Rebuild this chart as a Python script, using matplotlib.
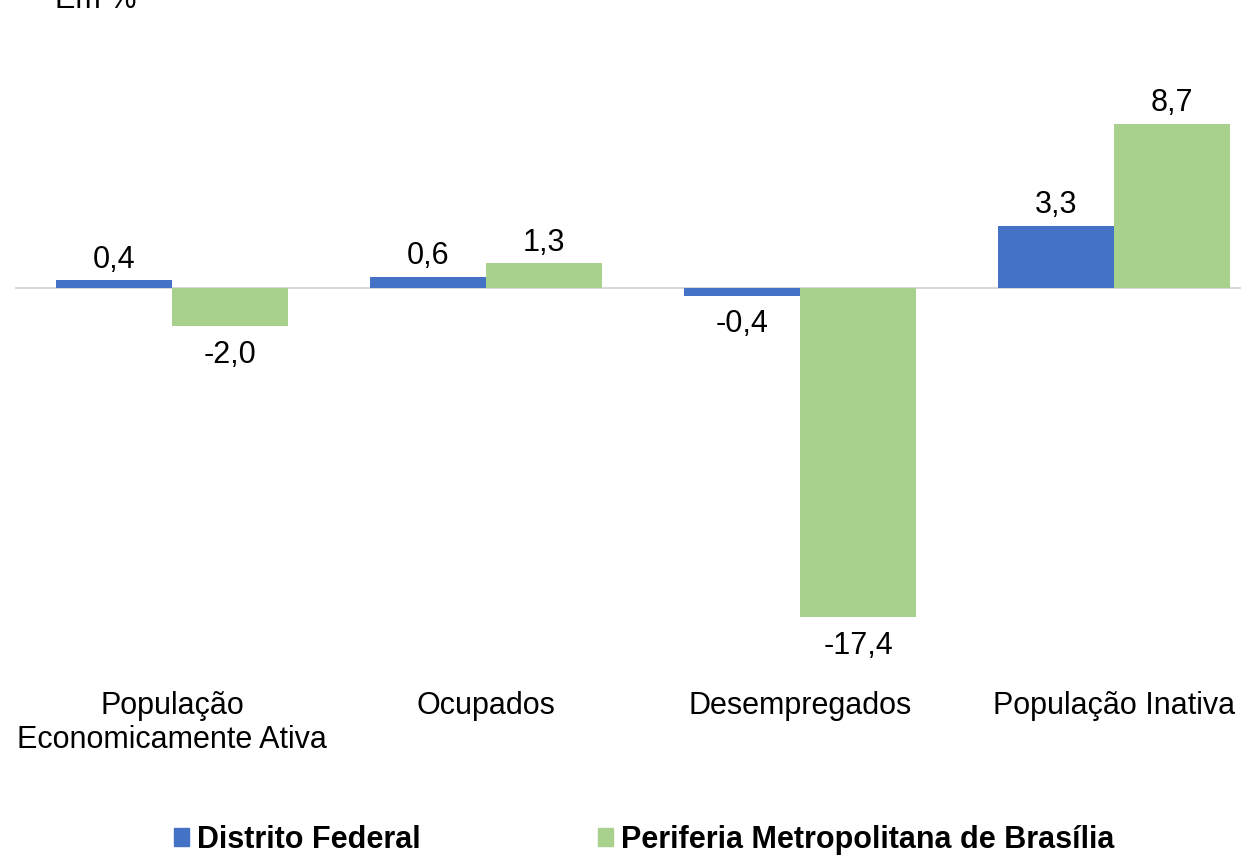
import numpy as np
import matplotlib
matplotlib.use("Agg")
import matplotlib.pyplot as plt
from matplotlib.patches import Patch

categories = ["População\nEconomicamente Ativa", "Ocupados", "Desempregados", "População Inativa"]
distrito_federal = [0.4, 0.6, -0.4, 3.3]
periferia = [-2.0, 1.3, -17.4, 8.7]
series_names = ["Distrito Federal", "Periferia Metropolitana de Brasília"]

BLUE = "#4472C4"
GREEN = "#A9D18E"

plt.rcParams["font.family"] = ["Liberation Sans", "DejaVu Sans"]

fig = plt.figure(figsize=(12.54, 8.56), dpi=100)
W, H = 1254, 856
ax = fig.add_axes([15 / W, (H - 660) / H, 1239 / W, 620 / H])

x = np.arange(len(categories))
w = 0.37
b1 = ax.bar(x - w / 2, distrito_federal, w, color=BLUE, zorder=3)
b2 = ax.bar(x + w / 2, periferia, w, color=GREEN, zorder=3)

# thin grey zero line
ax.plot([-0.5, 3.401], [0, 0], color="#D9D9D9", lw=1.5, zorder=2)

ax.set_xlim(-0.5, 3.446)
ax.set_ylim(-19.68, 13.12)

def fmt(v):
    return f"{v:.1f}".replace(".", ",")

for bars, vals in ((b1, distrito_federal), (b2, periferia)):
    for rect, v in zip(bars, vals):
        cx = rect.get_x() + rect.get_width() / 2
        if v >= 0:
            ax.annotate(fmt(v), (cx, v), xytext=(0, 4), textcoords="offset points",
                        ha="center", va="bottom", fontsize=22)
        else:
            ax.annotate(fmt(v), (cx, v), xytext=(0, -10), textcoords="offset points",
                        ha="center", va="top", fontsize=22)

for xi, lab in zip(x, categories):
    ax.text(xi, -21.3, lab, ha="center", va="top", fontsize=22, linespacing=1.17,
            transform=ax.transData, clip_on=False)

for s in ax.spines.values():
    s.set_visible(False)
ax.set_xticks([])
ax.set_yticks([])

fig.text(55 / W, 1.0, "Em %", ha="left", va="center", fontsize=22)

handles = [Patch(color=BLUE), Patch(color=GREEN)]
fig.legend(handles, series_names, loc="lower center", bbox_to_anchor=(644 / W, -0.031),
           ncol=2, frameon=False, handlelength=0.5, handleheight=0.5, handletextpad=0.25,
           columnspacing=5.8, prop={"weight": "bold", "size": 22})

fig.savefig("out.png", dpi=100)
